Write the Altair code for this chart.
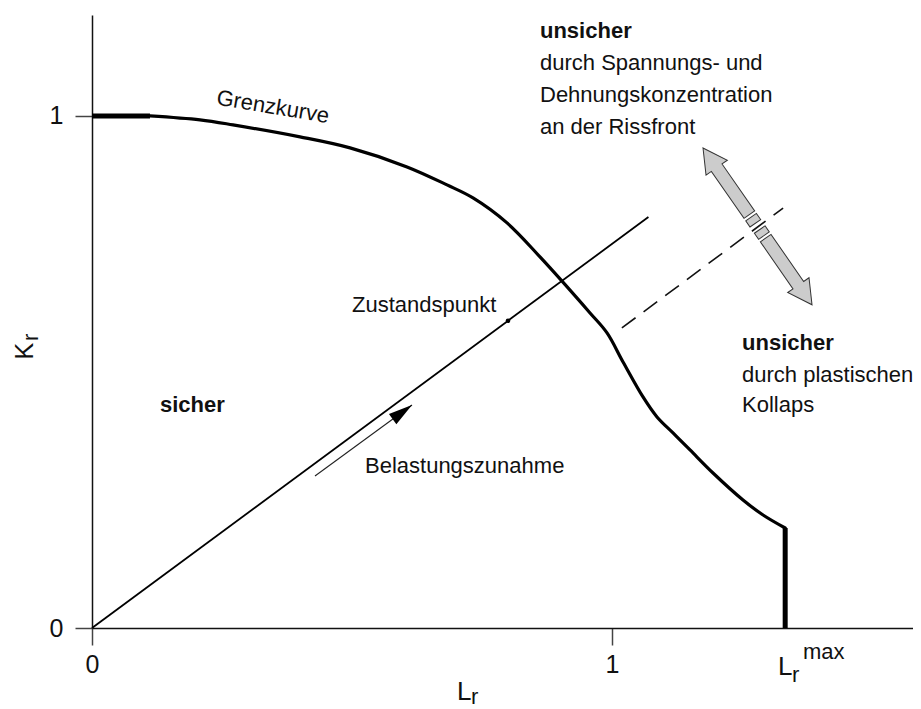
import altair as alt
import pandas as pd

# ---- data (Lr on x, Kr on y) ----
curve_lr = [0.1115, 0.2077, 0.2712, 0.40, 0.4962, 0.6058, 0.6827, 0.7327, 0.7981, 0.8615,
            0.9577, 0.9904, 1.0212, 1.0596, 1.0865, 1.1173, 1.15, 1.1942, 1.2519, 1.2904, 1.333]
curve_kr = [1.0, 0.9922, 0.9824, 0.959, 0.9375, 0.9004, 0.8652, 0.8398, 0.791, 0.7246,
            0.6152, 0.5762, 0.5195, 0.4512, 0.4121, 0.3809, 0.3477, 0.3027, 0.25, 0.2207, 0.1953]
plateau_lr = [0.0, 0.1115]
plateau_kr = [1.0, 1.0]
lr_max = 1.333
cutoff_kr = [0.1953, 0.0]
load_lr = [0.0, 1.07]
load_kr = [0.0, 0.8025]
state_lr = [0.8]
state_kr = [0.6]
dash_lr = [1.019, 1.329]
dash_kr = [0.586, 0.82]
incr_lr = [0.4288, 0.6154]
incr_kr = [0.2969, 0.4355]
dbl_arrow_lr = [1.2798]
dbl_arrow_kr = [0.7842]
tick_values = [0, 1]

FONT = "Liberation Sans, Arial, sans-serif"

# 520 px per unit on x, 512 px per unit on y
xs = alt.Scale(domain=[0, 1.5788], nice=False, zero=False)
ys = alt.Scale(domain=[0, 1.197], nice=False, zero=False)

x_axis = alt.Axis(values=tick_values, format="d", title=None, grid=False,
                  domainColor="#111", domainWidth=1.5, tickColor="#444", tickWidth=1.5,
                  tickSize=17, labelFont=FONT, labelFontSize=25, labelColor="#111",
                  labelPadding=7, labelFlush=False)
y_axis = alt.Axis(values=tick_values, format="d", title=None, grid=False,
                  domainColor="#111", domainWidth=1.5, tickColor="#444", tickWidth=1.5,
                  tickSize=17, labelFont=FONT, labelFontSize=25, labelColor="#111",
                  labelPadding=12, labelFlush=False)


def X():
    return alt.X("lr:Q", scale=xs, axis=x_axis)


def Y():
    return alt.Y("kr:Q", scale=ys, axis=y_axis)


curve = alt.Chart(pd.DataFrame({"lr": curve_lr, "kr": curve_kr})).mark_line(
    color="black", strokeWidth=3.2, interpolate="catmull-rom", strokeCap="round"
).encode(x=X(), y=Y())

plateau = alt.Chart(pd.DataFrame({"lr": plateau_lr, "kr": plateau_kr})).mark_line(
    color="black", strokeWidth=5
).encode(x=X(), y=Y())

cutoff = alt.Chart(pd.DataFrame({"lr": [lr_max, lr_max], "kr": cutoff_kr})).mark_line(
    color="black", strokeWidth=5
).encode(x=X(), y=Y())

load = alt.Chart(pd.DataFrame({"lr": load_lr, "kr": load_kr})).mark_line(
    color="black", strokeWidth=1.8
).encode(x=X(), y=Y())

state = alt.Chart(pd.DataFrame({"lr": state_lr, "kr": state_kr})).mark_point(
    filled=True, color="black", size=22, opacity=1
).encode(x=X(), y=Y())

dashed = alt.Chart(pd.DataFrame({"lr": dash_lr, "kr": dash_kr})).mark_line(
    color="#111", strokeWidth=1.6, strokeDash=[17, 10]
).encode(x=X(), y=Y())

incr_line = alt.Chart(pd.DataFrame({"lr": incr_lr, "kr": incr_kr})).mark_line(
    color="#222", strokeWidth=1.1
).encode(x=X(), y=Y())

incr_head = alt.Chart(pd.DataFrame({"lr": incr_lr[1:], "kr": incr_kr[1:]})).mark_point(
    shape="M 0 0 L -1 -0.26 L -1 0.26 Z", size=2304, angle=323.8,
    filled=True, color="black", opacity=1
).encode(x=X(), y=Y())

DBL = ("M -1 0 L -0.749 -0.136 L -0.749 -0.068 L -0.15 -0.068 L -0.15 0.068 "
       "L -0.749 0.068 L -0.749 0.136 Z "
       "M -0.118 -0.068 L -0.04 -0.068 L -0.04 0.068 L -0.118 0.068 Z "
       "M 0.04 -0.068 L 0.118 -0.068 L 0.118 0.068 L 0.04 0.068 Z "
       "M 1 0 L 0.749 -0.136 L 0.749 -0.068 L 0.15 -0.068 L 0.15 0.068 "
       "L 0.749 0.068 L 0.749 0.136 Z")
dbl_arrow = alt.Chart(pd.DataFrame({"lr": dbl_arrow_lr, "kr": dbl_arrow_kr})).mark_point(
    shape=DBL, size=36481, angle=55.2, filled=True, fill="#cccccc",
    stroke="#333", strokeWidth=1, opacity=1
).encode(x=X(), y=Y())

# ---- text annotations ----
plain_text = ["durch Spannungs- und", "Dehnungskonzentration", "an der Rissfront",
              "durch plastischen", "Kollaps", "Zustandspunkt", "Belastungszunahme"]
plain_lr = [0.8615, 0.8615, 0.8615, 1.25, 1.25, 0.50, 0.525]
plain_kr = [1.0898, 1.0273, 0.9648, 0.4805, 0.4219, 0.6172, 0.3027]

bold_text = ["unsicher", "unsicher", "sicher"]
bold_lr = [0.8615, 1.25, 0.1308]
bold_kr = [1.1523, 0.543, 0.4219]


def text_layer(texts, lrs, krs, size, weight="normal", angle=0, align="left",
               baseline="alphabetic"):
    df = pd.DataFrame({"t": texts, "lr": lrs, "kr": krs})
    return alt.Chart(df).mark_text(
        font=FONT, fontSize=size, fontWeight=weight, angle=angle, align=align,
        baseline=baseline, color="#111"
    ).encode(x=X(), y=Y(), text="t:N")


t_plain = text_layer(plain_text, plain_lr, plain_kr, 22)
t_bold = text_layer(bold_text, bold_lr, bold_kr, 22, weight="bold")
t_grenz = text_layer(["Grenzkurve"], [0.348], [1.0176], 22, angle=9.5,
                     align="center", baseline="middle")

# axis symbols with sub/superscripts
t_L = text_layer(["L", "L"], [0.7019, 1.3192], [-0.1406, -0.0918], 26)
t_r = text_layer(["r", "r"], [0.7288, 1.3462], [-0.1484, -0.1055], 22)
t_max = text_layer(["max"], [1.3673], [-0.0605], 22)
t_K = text_layer(["K"], [-0.1135], [0.5244], 25, angle=270)
t_Kr = text_layer(["r"], [-0.1038], [0.5605], 22, angle=270)

chart = alt.layer(
    curve, plateau, cutoff, load, dashed, state, incr_line, incr_head, dbl_arrow,
    t_plain, t_bold, t_grenz, t_L, t_r, t_max, t_K, t_Kr
).properties(
    width=821, height=613,
    autosize=alt.AutoSizeParams(type="none"),
    padding={"left": 84, "top": 7, "right": 0, "bottom": 84},
).configure(background="white").configure_view(stroke=None)

chart.save("out.html", embed_options={"renderer": "svg", "actions": False})
